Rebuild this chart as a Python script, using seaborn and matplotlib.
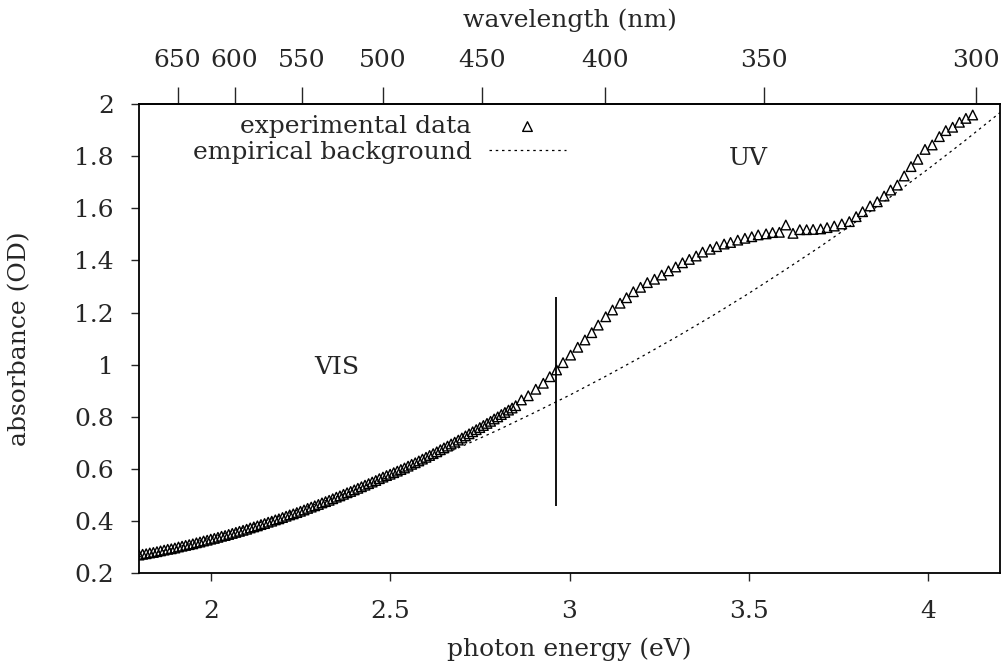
import matplotlib
matplotlib.use("Agg")
import matplotlib.pyplot as plt
import pandas as pd
import seaborn as sns

# ---------------- data ----------------
dense_energy = [1.80, 1.81, 1.82, 1.83, 1.84, 1.85, 1.86, 1.87, 1.88, 1.89,
                1.90, 1.91, 1.92, 1.93, 1.94, 1.95, 1.96, 1.97, 1.98, 1.99,
                2.00, 2.01, 2.02, 2.03, 2.04, 2.05, 2.06, 2.07, 2.08, 2.09,
                2.10, 2.11, 2.12, 2.13, 2.14, 2.15, 2.16, 2.17, 2.18, 2.19,
                2.20, 2.21, 2.22, 2.23, 2.24, 2.25, 2.26, 2.27, 2.28, 2.29,
                2.30, 2.31, 2.32, 2.33, 2.34, 2.35, 2.36, 2.37, 2.38, 2.39,
                2.40, 2.41, 2.42, 2.43, 2.44, 2.45, 2.46, 2.47, 2.48, 2.49,
                2.50, 2.51, 2.52, 2.53, 2.54, 2.55, 2.56, 2.57, 2.58, 2.59,
                2.60, 2.61, 2.62, 2.63, 2.64, 2.65, 2.66, 2.67, 2.68, 2.69,
                2.70, 2.71, 2.72, 2.73, 2.74, 2.75, 2.76, 2.77, 2.78, 2.79,
                2.80, 2.81, 2.82, 2.83, 2.84, 2.85]
dense_absorbance = [0.270, 0.273, 0.275, 0.278, 0.280, 0.283, 0.286, 0.289, 0.292, 0.294,
                    0.297, 0.301, 0.304, 0.307, 0.310, 0.313, 0.317, 0.320, 0.324, 0.327,
                    0.331, 0.334, 0.338, 0.342, 0.345, 0.349, 0.353, 0.357, 0.361, 0.365,
                    0.369, 0.374, 0.378, 0.382, 0.387, 0.391, 0.396, 0.400, 0.405, 0.409,
                    0.414, 0.419, 0.424, 0.428, 0.433, 0.438, 0.443, 0.449, 0.454, 0.459,
                    0.464, 0.470, 0.475, 0.480, 0.486, 0.492, 0.497, 0.503, 0.509, 0.514,
                    0.520, 0.526, 0.532, 0.538, 0.544, 0.550, 0.556, 0.563, 0.569, 0.575,
                    0.580, 0.586, 0.592, 0.598, 0.604, 0.611, 0.618, 0.624, 0.631, 0.638,
                    0.645, 0.652, 0.659, 0.666, 0.674, 0.681, 0.688, 0.696, 0.703, 0.711,
                    0.719, 0.727, 0.735, 0.743, 0.751, 0.759, 0.767, 0.775, 0.783, 0.792,
                    0.800, 0.809, 0.817, 0.826, 0.834, 0.843]

sparse_energy = [2.866, 2.885, 2.906, 2.927, 2.945, 2.964, 2.982, 3.003, 3.023, 3.043,
                 3.062, 3.080, 3.101, 3.120, 3.141, 3.159, 3.178, 3.198, 3.217, 3.237,
                 3.257, 3.276, 3.296, 3.315, 3.334, 3.353, 3.371, 3.392, 3.410, 3.431,
                 3.449, 3.469, 3.489, 3.508, 3.526, 3.548, 3.566, 3.585, 3.603, 3.623,
                 3.642, 3.661, 3.679, 3.700, 3.718, 3.738, 3.759, 3.780, 3.799, 3.817,
                 3.838, 3.858, 3.877, 3.895, 3.914, 3.933, 3.952, 3.971, 3.991, 4.011,
                 4.031, 4.049, 4.068, 4.087, 4.105, 4.124]
sparse_absorbance = [0.865, 0.881, 0.906, 0.929, 0.954, 0.980, 1.008, 1.037, 1.067, 1.095,
                     1.123, 1.152, 1.184, 1.210, 1.236, 1.257, 1.280, 1.297, 1.315, 1.328,
                     1.344, 1.360, 1.375, 1.391, 1.404, 1.417, 1.432, 1.443, 1.453, 1.463,
                     1.469, 1.478, 1.485, 1.491, 1.498, 1.502, 1.507, 1.508, 1.536, 1.504,
                     1.518, 1.518, 1.519, 1.521, 1.526, 1.532, 1.540, 1.549, 1.568, 1.587,
                     1.609, 1.625, 1.647, 1.670, 1.689, 1.724, 1.760, 1.788, 1.826, 1.843,
                     1.875, 1.898, 1.911, 1.930, 1.945, 1.958]

background_energy = [1.8, 1.9, 2.0, 2.1, 2.2, 2.3, 2.4, 2.5, 2.6, 2.7, 2.8, 2.9, 3.0,
                     3.1, 3.2, 3.3, 3.4, 3.5, 3.6, 3.7, 3.8, 3.9, 4.0, 4.1, 4.2]
background_absorbance = [0.262, 0.298, 0.336, 0.378, 0.422, 0.469, 0.519, 0.572, 0.628,
                         0.687, 0.749, 0.815, 0.883, 0.955, 1.030, 1.108, 1.189, 1.274,
                         1.363, 1.454, 1.550, 1.649, 1.751, 1.857, 1.967]

divider_energy = 2.962
divider_absorbance = [0.46, 1.26]

region_labels = ["VIS", "UV"]
region_energy = [2.35, 3.50]
region_absorbance = [0.99, 1.79]

energy_ticks = [2, 2.5, 3, 3.5, 4]
energy_tick_labels = ["2", "2.5", "3", "3.5", "4"]
absorbance_ticks = [0.2, 0.4, 0.6, 0.8, 1.0, 1.2, 1.4, 1.6, 1.8, 2.0]
absorbance_tick_labels = ["0.2", "0.4", "0.6", "0.8", "1", "1.2", "1.4", "1.6", "1.8", "2"]
wavelength_ticks = [650, 600, 550, 500, 450, 400, 350, 300]
hc_ev_nm = 1240.0

# ---------------- styling ----------------
sns.set_style("ticks")
plt.rcParams["font.family"] = ["DejaVu Serif"]
FS = 18
plt.rcParams["font.size"] = FS

fig = plt.figure(figsize=(10.03, 6.66), dpi=100)
ax = fig.add_axes([0.1386, 0.1392, 0.997 - 0.1386, 0.8438 - 0.1392])

exp_df = pd.DataFrame({"energy": dense_energy + sparse_energy,
                       "absorbance": dense_absorbance + sparse_absorbance})
bg_df = pd.DataFrame({"energy": background_energy, "absorbance": background_absorbance})

sns.lineplot(data=bg_df, x="energy", y="absorbance", ax=ax, color="black",
             linewidth=0.9, linestyle=(0, (2, 3)), label="empirical background",
             zorder=2, sort=True)
sns.scatterplot(data=exp_df, x="energy", y="absorbance", ax=ax, marker="^", s=48,
                facecolors="none", edgecolors="black", linewidth=1.0,
                label="experimental data", zorder=3)

ax.vlines(divider_energy, divider_absorbance[0], divider_absorbance[1],
          color="black", linewidth=1.3, zorder=4)

for lab, ex, ey in zip(region_labels, region_energy, region_absorbance):
    ax.text(ex, ey, lab, ha="center", va="center", fontsize=FS)

ax.set_xlim(1.8, 4.2)
ax.set_ylim(0.2, 2.0)
ax.set_xticks(energy_ticks)
ax.set_xticklabels(energy_tick_labels)
ax.set_yticks(absorbance_ticks)
ax.set_yticklabels(absorbance_tick_labels)
ax.minorticks_off()
ax.tick_params(axis="x", which="both", direction="out", length=6, width=1.0,
               pad=13, labelsize=FS, top=False, bottom=True)
ax.tick_params(axis="y", which="both", direction="out", length=6, width=1.0,
               pad=12, labelsize=FS, right=False, left=True)
for sp in ax.spines.values():
    sp.set_visible(True)
    sp.set_linewidth(1.3)
    sp.set_color("black")

ax.set_xlabel("photon energy (eV)", fontsize=FS, labelpad=11)
ax.set_ylabel("absorbance (OD)", fontsize=FS, labelpad=31)

secax = ax.secondary_xaxis("top", functions=(lambda e: hc_ev_nm / e,
                                             lambda w: hc_ev_nm / w))
secax.set_xticks(wavelength_ticks)
secax.set_xticklabels([str(w) for w in wavelength_ticks])
secax.minorticks_off()
secax.tick_params(axis="x", which="both", direction="out", length=12, width=1.0,
                  pad=11, labelsize=FS)
secax.spines["top"].set_linewidth(1.3)
secax.set_xlabel("wavelength (nm)", fontsize=FS, labelpad=16)

handles, labels = ax.get_legend_handles_labels()
order = [labels.index("experimental data"), labels.index("empirical background")]
leg = ax.legend([handles[i] for i in order], [labels[i] for i in order],
                loc="upper right", bbox_to_anchor=(0.502, 0.987), frameon=False,
                markerfirst=False, handlelength=3.1, handletextpad=0.68,
                labelspacing=0.1, borderaxespad=0.0, borderpad=0.2, fontsize=FS)
for col in leg._legend_handle_box.get_children():
    col.align = "right"

fig.savefig("out.png", dpi=100)
